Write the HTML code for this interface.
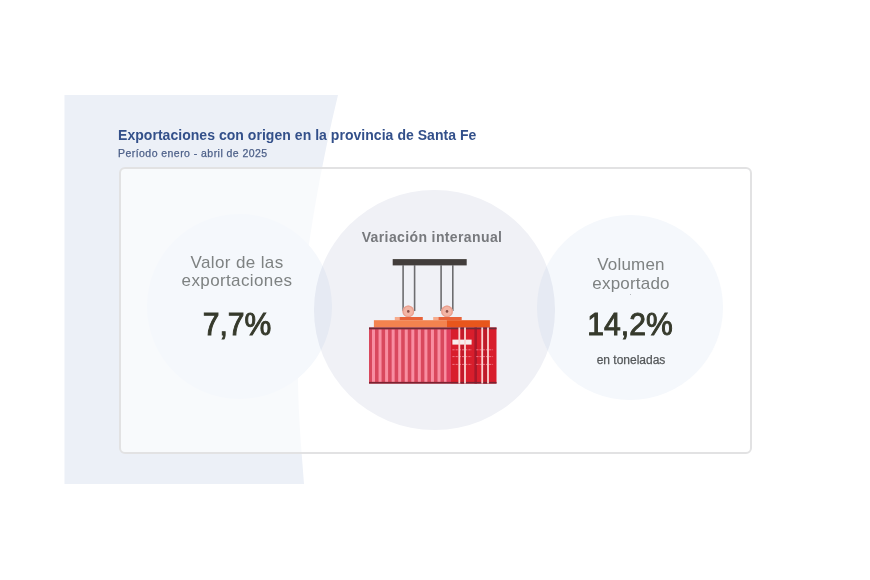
<!DOCTYPE html>
<html><head><meta charset="utf-8">
<style>
html,body{margin:0;padding:0;background:#fff;}
body{width:870px;height:580px;position:relative;overflow:hidden;font-family:"Liberation Sans",Arial,sans-serif;}
.abs{position:absolute;}
#bgpanel{position:absolute;left:0;top:0;}
.title{position:absolute;left:118px;top:127px;font-size:14px;letter-spacing:0.04px;font-weight:bold;color:#33508a;white-space:nowrap;}
.sub{position:absolute;left:118px;top:147px;font-size:10.5px;letter-spacing:0.45px;color:#4d6089;-webkit-text-stroke:0.25px #4d6089;white-space:nowrap;}
.card{position:absolute;left:119px;top:167px;width:629px;height:283px;border:2px solid #e2e2e3;border-radius:6px;background:rgba(255,255,255,0.65);}
.circ{position:absolute;border-radius:50%;}
.lbl{position:absolute;width:200px;text-align:center;font-size:17px;letter-spacing:0.2px;line-height:18.4px;color:#7e8282;}
.big{position:absolute;width:200px;text-align:center;font-size:32px;letter-spacing:0px;transform:scaleX(0.94);font-weight:normal;-webkit-text-stroke:1px #363a2c;color:#363a2c;}
.mid{position:absolute;width:200px;text-align:center;font-size:14px;letter-spacing:0.38px;font-weight:bold;color:#77797d;}
.small{position:absolute;width:200px;text-align:center;font-size:12px;color:#55585a;-webkit-text-stroke:0.25px #55585a;}
</style></head>
<body>
<svg id="bgpanel" width="870" height="580" viewBox="0 0 870 580">
  <path d="M64.5,95 L338,95 C321,165 297,290 298,380 C298.5,420 302,455 304,484 L64.5,484 Z" fill="#ecf0f7"/>
</svg>
<div class="title">Exportaciones con origen en la provincia de Santa Fe</div>
<div class="sub">Período enero - abril de 2025</div>
<div class="card"></div>
<div class="circ" style="left:147px;top:214px;width:185px;height:185px;background:#f5f8fc;"></div>
<div class="circ" style="left:537px;top:215px;width:185.5px;height:184.5px;background:#f5f8fc;"></div>
<div class="circ" style="left:314px;top:190px;width:240.5px;height:239.5px;background:#f0f1f6;mix-blend-mode:multiply;"></div>

<div class="lbl" style="left:137px;top:253.5px;letter-spacing:0.38px;">Valor de las<br>exportaciones</div>
<div class="big" style="left:137px;top:306px;">7,7%</div>

<div class="mid" style="left:332px;top:229px;">Variación interanual</div>

<div class="lbl" style="left:531px;top:256.2px;">Volumen<br>exportado</div>
<div class="big" style="left:529.5px;top:306px;">14,2%</div>
<div class="small" style="left:531px;top:353px;">en toneladas</div>

<svg class="abs" style="left:0;top:0" width="870" height="580" viewBox="0 0 870 580">
  <rect x="392.7" y="259.1" width="74" height="6.3" fill="#423d3b"/>
  <g stroke="#6d6d70" stroke-width="1.6">
    <line x1="403.1" y1="265" x2="403.1" y2="311"/>
    <line x1="414.6" y1="265" x2="414.6" y2="311"/>
    <line x1="441.1" y1="265" x2="441.1" y2="311"/>
    <line x1="452.8" y1="265" x2="452.8" y2="311"/>
  </g>
  <circle cx="408.3" cy="311.4" r="5.9" fill="#f3b5a5"/>
  <circle cx="408.3" cy="311.4" r="5.2" fill="none" stroke="#e9a090" stroke-width="1.2"/>
  <circle cx="408.3" cy="311.4" r="1.3" fill="#8a4c44"/>
  <circle cx="447" cy="311.4" r="5.9" fill="#f3b5a5"/>
  <circle cx="447" cy="311.4" r="5.2" fill="none" stroke="#e9a090" stroke-width="1.2"/>
  <circle cx="447" cy="311.4" r="1.3" fill="#8a4c44"/>
  <rect x="394.8" y="317" width="4.7" height="3.3" fill="#f6ab8c"/>
  <rect x="399.5" y="317" width="23.3" height="3.3" fill="#e8633a"/>
  <rect x="433.2" y="317" width="5.2" height="3.3" fill="#f6ab8c"/>
  <rect x="438.4" y="317" width="23.3" height="3.3" fill="#e8633a"/>
  <rect x="373.9" y="320.2" width="73" height="7.3" fill="#f3834f"/>
  <rect x="446.8" y="320.2" width="43.1" height="7.3" fill="#e8561c"/>
  <rect x="369" y="327.5" width="77.5" height="56" fill="#d9485d"/>
  <g fill="#f88ea1"><rect x="372.00" y="329.3" width="3" height="52.6"/><rect x="378.55" y="329.3" width="3" height="52.6"/><rect x="385.10" y="329.3" width="3" height="52.6"/><rect x="391.65" y="329.3" width="3" height="52.6"/><rect x="398.20" y="329.3" width="3" height="52.6"/><rect x="404.75" y="329.3" width="3" height="52.6"/><rect x="411.30" y="329.3" width="3" height="52.6"/><rect x="417.85" y="329.3" width="3" height="52.6"/><rect x="424.40" y="329.3" width="3" height="52.6"/><rect x="430.95" y="329.3" width="3" height="52.6"/><rect x="437.50" y="329.3" width="3" height="52.6"/><rect x="444.05" y="329.3" width="3" height="52.6"/></g>
  <rect x="446.5" y="327.5" width="4.5" height="56" fill="#e0405f"/>
  <rect x="451" y="327.5" width="45.5" height="56" fill="#d81e2c"/>
  <rect x="461" y="327.5" width="3" height="56" fill="#c41a2a"/>
  <rect x="474.4" y="327.5" width="2.6" height="56" fill="#a8182a"/>
  <rect x="483" y="327.5" width="5" height="56" fill="#c01a2a"/>
  <rect x="369" y="327.5" width="127.5" height="1.8" fill="#6e2a36"/>
  <rect x="369" y="381.9" width="127.5" height="1.7" fill="#7c2230"/>
  <rect x="452.4" y="339.6" width="19.2" height="5" fill="#f7eeee"/>
  <g stroke="#ef7686" stroke-width="1" stroke-dasharray="2.2 1">
    <line x1="452.4" y1="349.8" x2="471.9" y2="349.8"/>
    <line x1="452.4" y1="356.6" x2="471.9" y2="356.6"/>
    <line x1="452.4" y1="364.4" x2="471.9" y2="364.4"/>
    <line x1="476.3" y1="349.8" x2="493.1" y2="349.8"/>
    <line x1="476.3" y1="356.6" x2="493.1" y2="356.6"/>
    <line x1="476.3" y1="364.4" x2="493.1" y2="364.4"/>
  </g>
  <g fill="#fbd4d2">
    <rect x="458.4" y="327.5" width="1.8" height="56"/>
    <rect x="464.1" y="327.5" width="1.8" height="56"/>
    <rect x="481.3" y="327.5" width="1.8" height="56"/>
    <rect x="487.1" y="327.5" width="1.8" height="56"/>
  </g>
</svg>
<div class="abs" style="left:630px;top:293.5px;width:1px;height:1px;background:#b8bcc0;"></div>
</body></html>
